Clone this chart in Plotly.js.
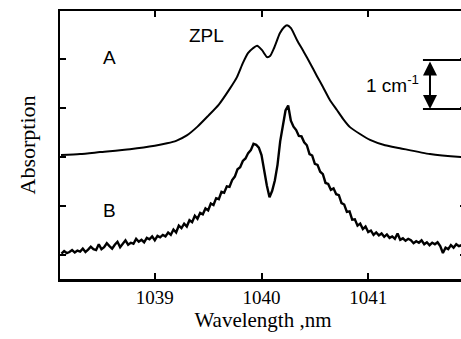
<!DOCTYPE html>
<html><head><meta charset="utf-8">
<script src="https://cdn.plot.ly/plotly-3.0.1.min.js"></script>
<style>html,body{margin:0;padding:0;overflow:hidden;width:461px;height:339px;background:#fff}</style>
</head><body><div id="plot"></div>
<script>
// Spectrum A (smooth), wavelength in nm, absorption in cm^-1 units (offset)
const wlA = [1038.121,1038.299,1038.486,1038.767,1039.000,1039.114,1039.200,1039.300,1039.400,1039.500,1039.600,1039.705,1039.770,1039.826,1039.873,1039.920,1039.958,1040.005,1040.052,1040.080,1040.117,1040.173,1040.211,1040.239,1040.276,1040.332,1040.398,1040.454,1040.520,1040.576,1040.642,1040.707,1040.764,1040.829,1040.923,1041.017,1041.158,1041.298,1041.579,1041.868,1041.95];
const absA = [2.04,2.06,2.10,2.16,2.23,2.28,2.33,2.44,2.62,2.84,3.07,3.40,3.63,3.92,4.12,4.22,4.27,4.18,4.04,4.06,4.22,4.53,4.65,4.69,4.63,4.39,4.14,3.92,3.65,3.43,3.16,2.96,2.78,2.61,2.47,2.35,2.24,2.18,2.06,2.00,1.99];
// Spectrum B (noisy), sampled every 0.025 nm from 1038.125
const wlB0 = 1038.125, wlBstep = 0.025;
const absB = [0.03,0.08,0.04,0.06,0.10,0.05,0.09,0.07,0.13,0.06,
0.11,0.17,0.12,0.10,0.22,0.12,0.16,0.24,0.18,0.13,
0.21,0.27,0.16,0.23,0.30,0.21,0.25,0.23,0.33,0.27,
0.31,0.26,0.35,0.32,0.38,0.30,0.39,0.36,0.41,0.38,
0.46,0.41,0.52,0.46,0.60,0.55,0.64,0.58,0.71,0.67,
0.80,0.74,0.86,0.83,0.95,0.91,1.05,1.02,1.16,1.14,
1.29,1.27,1.40,1.39,1.53,1.60,1.75,1.79,1.92,1.97,
2.08,2.14,2.27,2.25,2.19,2.04,1.70,1.42,1.18,1.31,
1.52,1.84,2.32,2.66,2.95,3.05,2.74,2.62,2.55,2.43,
2.42,2.30,2.24,2.06,2.03,1.86,1.84,1.70,1.65,1.47,
1.45,1.33,1.36,1.24,1.22,1.06,1.03,0.88,0.89,0.72,
0.73,0.60,0.64,0.53,0.58,0.47,0.50,0.41,0.46,0.40,
0.44,0.37,0.42,0.35,0.38,0.33,0.44,0.31,0.34,0.29,
0.33,0.30,0.24,0.28,0.25,0.30,0.22,0.26,0.20,0.25,
0.22,0.26,0.18,0.04,0.15,0.12,0.20,0.15,0.22,0.18,0.20];
const wlB = absB.map((_, i) => +(wlB0 + i * wlBstep).toFixed(3));
const xTicks = [1039, 1040, 1041];
const yTicks = [0, 1, 2, 3, 4];
const scaleBar = [2.98, 3.98]; // 1 cm^-1

const serif = "Liberation Serif, Times New Roman, serif";
const sans = "Liberation Sans, Arial, sans-serif";

const traces = [
  {x: wlA, y: absA, mode: 'lines', line: {color: '#000', width: 2, shape: 'spline', smoothing: 0.6}, hoverinfo: 'skip'},
  {x: wlB, y: absB, mode: 'lines', line: {color: '#000', width: 2.4}, hoverinfo: 'skip'}
];

const barX = 1041.579;
const txt = (x, y, t) => ({xref: 'paper', yref: 'paper', x: x, y: y, xanchor: 'center', yanchor: 'middle', text: t, showarrow: false, font: {family: sans, size: 19, color: '#000'}});
const layout = {
  width: 470, height: 339,
  margin: {l: 60, r: 4, t: 11, b: 60},
  paper_bgcolor: '#fff', plot_bgcolor: '#fff',
  font: {family: serif, color: '#000'},
  showlegend: false,
  xaxis: {
    range: [1038.1115, 1041.9165],
    tickvals: xTicks, ticktext: xTicks.map(String),
    ticks: 'inside', ticklen: 6, tickwidth: 2, tickcolor: '#000',
    showline: true, linewidth: 2.5, linecolor: '#000', mirror: 'allticks',
    showgrid: false, zeroline: false,
    tickfont: {family: serif, size: 19, color: '#000'},
    title: {text: 'Wavelength ,nm', font: {family: serif, size: 21, color: '#000'}, standoff: 3}
  },
  yaxis: {
    range: [-0.49, 4.98],
    tickvals: yTicks, showticklabels: false,
    ticks: 'inside', ticklen: 6, tickwidth: 2, tickcolor: '#000',
    showline: true, linewidth: 2.5, linecolor: '#000', mirror: 'allticks',
    showgrid: false, zeroline: false,
    title: {text: 'Absorption', font: {family: serif, size: 22, color: '#000'}, standoff: 16}
  },
  shapes: scaleBar.map(v => ({type: 'line', xref: 'x', yref: 'y', x0: 1041.513, x1: 1042.0, y0: v, y1: v, line: {color: '#000', width: 2}})),
  annotations: [
    txt(0.360, 0.907, 'ZPL'),
    txt(0.123, 0.828, 'A'),
    txt(0.123, 0.254, 'B'),
    txt(0.820, 0.728, '1 cm<sup>-1</sup>'),
    {xref: 'x', yref: 'y', x: barX, y: scaleBar[0], axref: 'x', ayref: 'y', ax: barX, ay: scaleBar[1], text: '', showarrow: true, arrowhead: 2, arrowside: 'end+start', arrowsize: 1.4, arrowwidth: 2, arrowcolor: '#000', standoff: 0, startstandoff: 0}
  ]
};
Plotly.newPlot('plot', traces, layout, {staticPlot: true, displayModeBar: false});
</script></body></html>
